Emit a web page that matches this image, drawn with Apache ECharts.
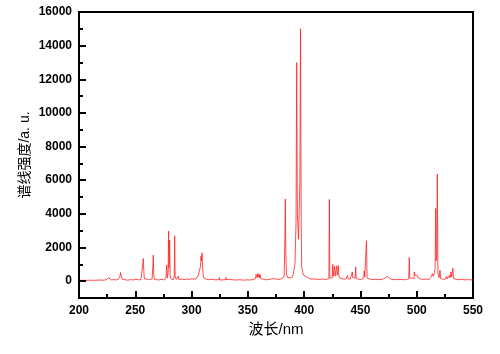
<!DOCTYPE html>
<html>
<head>
<meta charset="utf-8">
<script src="https://cdn.jsdelivr.net/npm/echarts@6/dist/echarts.min.js"></script>
<style>
  html, body { margin: 0; padding: 0; background: #fff; }
  #chart { width: 500px; height: 354px; }
</style>
</head>
<body>
<div id="chart"></div>
<script>
// spectrum: wavelength (nm) and line intensity (a. u.)
var wavelength = [
  200, 203, 206, 210, 214, 218, 221, 224, 225.5, 226.2, 227, 229, 231, 233, 235,
  236.4, 237.0, 237.6, 238.5, 240, 243, 246, 248, 250.5, 251.2, 253, 255,
  256.2, 256.7, 257.1, 257.5, 258, 259.5, 261, 263, 265.0, 265.6, 266.0, 266.4,
  267, 269, 271, 273, 275, 277.2, 277.9, 278.5, 279.2, 279.6, 280.0, 280.5, 281.0,
  282, 284, 284.6, 285.0, 285.4, 286.5, 287.8, 288.2, 288.6, 290, 292, 294, 296,
  298, 300, 302, 304, 305.5, 306.0, 306.6, 307.5, 308.0, 308.4, 308.8, 309.3,
  309.8, 310.3, 311, 313, 315, 318, 321, 324.2, 324.6, 325, 327, 330.2, 330.6,
  331, 333.5, 334, 334.5, 337, 340, 343, 346, 349, 352, 355, 356.8, 357.3, 357.8,
  358.3, 358.9, 359.4, 359.9, 360.4, 360.9, 361.5, 363, 366, 369, 372.2, 372.7,
  373.2, 373.7, 374.2, 374.9, 375.6, 377, 379, 381, 382.3, 382.9, 383.3, 383.7,
  384.3, 385.5, 387, 389, 390.4, 391.9, 392.8, 393.4, 394.0, 395.0, 396.2, 396.8,
  397.4, 397.8, 399.3, 400.5, 402.3, 404, 406, 408, 410, 412, 414, 416, 418, 420,
  422.0, 422.4, 422.8, 424, 425.0, 425.4, 425.8, 426.6, 427.1, 427.5, 428.4,
  428.9, 429.3, 429.9, 430.3, 430.7, 431.5, 433, 435, 437, 438.2, 438.6, 439, 441,
  442.4, 442.8, 443.2, 444.5, 445.4, 445.8, 446.2, 448, 450, 452, 453.0, 453.4,
  453.8, 454.8, 455.4, 455.9, 457, 460, 463, 466, 469, 471, 472.5, 473.9, 475.5,
  477, 480, 483, 486, 489, 491, 492.9, 493.4, 493.8, 495, 497.5, 497.9, 498.4,
  499, 499.6, 500.3, 501, 502, 503, 505, 508, 511, 513.2, 513.8, 514.2, 514.8,
  515.6, 516.3, 516.9, 517.3, 517.8, 518.3, 518.8, 519.8, 520.7, 521.3, 523, 525,
  526.2, 526.6, 527, 528.5, 529.2, 529.6, 530.5, 531, 532.2, 532.7, 534, 537, 540,
  543, 546, 550
];
var intensity = [
  40, 55, 45, 60, 50, 70, 55, 80, 150, 200, 110, 70, 90, 75, 110,
  300, 520, 250, 120, 80, 60, 90, 70, 120, 60, 80, 90,
  120, 1000, 1350, 700, 150, 90, 120, 80, 150, 900, 1550, 400,
  120, 90, 70, 110, 80, 150, 950, 200, 500, 2975, 800, 2440, 250,
  120, 100, 300, 2700, 250, 110, 120, 300, 110, 80, 120, 90, 130,
  100, 150, 120, 140, 250, 360, 250, 400, 900, 1490, 1200, 1680,
  900, 350, 180, 120, 90, 110, 80, 90, 220, 80, 70, 90, 220,
  90, 110, 160, 100, 80, 70, 90, 60, 80, 70, 100, 150, 400, 500,
  200, 450, 250, 420, 200, 380, 150, 100, 80, 100, 150, 230,
  120, 260, 140, 240, 130, 100, 120, 180, 350, 2500, 4880, 1800,
  400, 200, 150, 200, 420, 1070, 3500, 12990, 4000, 2500, 6000, 15000,
  3500, 850, 360, 280, 250, 150, 120, 140, 110, 120, 100, 130, 100, 120,
  150, 4860, 200, 120, 200, 1000, 300, 250, 900, 300, 400,
  900, 350, 500, 950, 400, 200, 150, 120, 140, 150, 350, 140, 120,
  150, 550, 200, 150, 200, 850, 180, 120, 100, 130, 300, 610,
  250, 200, 2400, 180, 130, 100, 110, 90, 110, 150, 220, 300, 200,
  120, 100, 90, 110, 80, 100, 150, 1410, 200, 120, 150, 550, 350,
  450, 300, 350, 220, 250, 150, 100, 120, 110, 250, 450, 550, 300,
  500, 700, 4330, 1200, 1500, 6370, 500, 200, 650, 150, 120, 100,
  150, 300, 130, 120, 350, 200, 550, 250, 770, 150, 100, 90, 100,
  80, 90, 70
];

var ink = 'black';
var latin = "'Liberation Sans', 'Noto Sans CJK SC', sans-serif";
var plain = function (v) { return String(v); };
var chart = echarts.init(document.getElementById('chart'));

var points = wavelength.map(function (w, i) { return [w, intensity[i]]; });

chart.setOption({
  animation: false,
  grid: [
    // plot box, y from -1000
    { left: 79, right: 27, top: 12, bottom: 56, show: true, borderColor: ink, borderWidth: 2 },
    // same box cut at y = 0, only for the labelled y ticks
    { left: 79, right: 27, top: 12, bottom: 73 }
  ],
  xAxis: [
    {
      type: 'value',
      gridIndex: 0,
      z: 10,
      min: 200,
      max: 550,
      interval: 50,
      name: '波长/nm',
      nameLocation: 'middle',
      nameGap: 23,
      nameTextStyle: { color: ink, fontSize: 15, fontFamily: latin },
      axisLine: { show: true, onZero: false, lineStyle: { color: ink, width: 2 } },
      axisTick: { show: true, inside: true, length: 7, lineStyle: { color: ink, width: 2 } },
      minorTick: { show: true, splitNumber: 2, length: 4, lineStyle: { color: ink, width: 2 } },
      axisLabel: { color: ink, fontSize: 12, fontWeight: 'bold', fontFamily: latin, margin: 7, formatter: plain },
      splitLine: { show: false }
    },
    { type: 'value', gridIndex: 1, min: 200, max: 550, show: false }
  ],
  yAxis: [
    {
      // odd thousands: short ticks only
      type: 'value',
      gridIndex: 0,
      z: 10,
      min: -1000,
      max: 16000,
      interval: 2000,
      name: '谱线强度/a. u.',
      nameLocation: 'middle',
      nameGap: 47,
      nameTextStyle: { color: ink, fontSize: 14, fontFamily: latin },
      axisLine: { show: true, onZero: false, lineStyle: { color: ink, width: 2 } },
      axisTick: { show: true, inside: true, length: 4, lineStyle: { color: ink, width: 2 } },
      axisLabel: { show: false },
      splitLine: { show: false }
    },
    {
      type: 'value',
      gridIndex: 1,
      z: 10,
      min: 0,
      max: 16000,
      interval: 2000,
      axisLine: { show: false, onZero: false },
      axisTick: { show: true, inside: true, length: 7, lineStyle: { color: ink, width: 2 } },
      axisLabel: { color: ink, fontSize: 12, fontWeight: 'bold', fontFamily: latin, margin: 7, formatter: plain },
      splitLine: { show: false }
    }
  ],
  series: [{
    type: 'line',
    data: points,
    showSymbol: false,
    lineStyle: { color: '#ff2020', width: 0.8 }
  }]
});
</script>
</body>
</html>
